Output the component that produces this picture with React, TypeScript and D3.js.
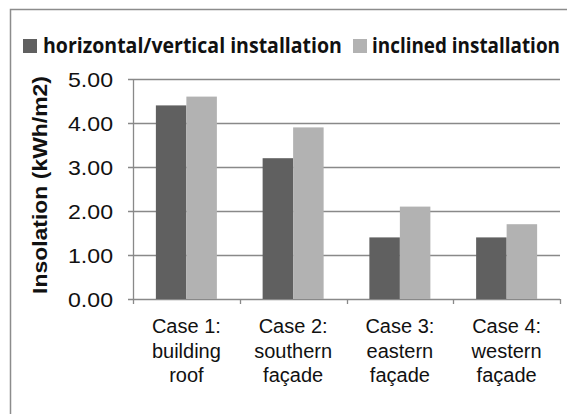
import React, {useEffect, useRef} from 'react'
import * as d3 from 'd3';

const categories = [
    ['Case 1:', 'building', 'roof'],
    ['Case 2:', 'southern', 'façade'],
    ['Case 3:', 'eastern', 'façade'],
    ['Case 4:', 'western', 'façade'],
];
const seriesNames = ['horizontal/vertical installation', 'inclined installation'];
const horizontalVertical = [4.4, 3.2, 1.4, 1.4];
const inclined = [4.6, 3.9, 2.1, 1.7];
const yTicks = [0, 1, 2, 3, 4, 5];

const colors = ['#606060', '#b2b2b2'];

export default function App(){
    const svgRef = useRef<SVGSVGElement>(null);

    const W = 567, H = 414;
    const margin = {top: 79, right: 7, left: 133, bottom: 115};

    useEffect(() => {
        const svg = d3.select(svgRef.current);
        svg.selectAll("*").remove();

        const keys = categories.map(c => c.join(' '));
        const data = keys.map((k, i) => ({key: k, values: [horizontalVertical[i], inclined[i]]}));

        const x0 = d3.scaleBand()
            .domain(keys)
            .range([margin.left, W - margin.right])
            .padding(0);
        const x1 = d3.scaleBand()
            .domain(['0', '1'])
            .range([0, x0.bandwidth()])
            .paddingInner(0)
            .paddingOuter(0.75);
        const y = d3.scaleLinear()
            .domain([0, 5])
            .range([H - margin.bottom, margin.top]);

        // outer chart border (runs off the right and bottom of the picture)
        svg.append('rect')
            .attr('x', 10.5).attr('y', 9.5)
            .attr('width', 700).attr('height', 600)
            .attr('fill', 'white')
            .attr('stroke', '#8c8c8c')
            .attr('stroke-width', 1.5);

        // gridlines + y ticks
        svg.append('g')
            .selectAll('line')
            .data(yTicks)
            .join('line')
            .attr('x1', margin.left - 5)
            .attr('x2', W - margin.right)
            .attr('y1', d => Math.round(y(d)) + 0.5)
            .attr('y2', d => Math.round(y(d)) + 0.5)
            .attr('stroke', '#898989')
            .attr('stroke-width', 1.3);

        svg.append('g')
            .selectAll('text')
            .data(yTicks)
            .join('text')
            .attr('x', 113)
            .attr('y', d => y(d) + 7.5)
            .attr('text-anchor', 'end')
            .attr('font-family', '"Liberation Sans", Arial, sans-serif')
            .attr('font-size', '21px')
            .attr('textLength', 45)
            .attr('lengthAdjust', 'spacingAndGlyphs')
            .attr('fill', '#111')
            .text(d => d.toFixed(2));

        // bars
        svg.append('g')
            .selectAll('g')
            .data(data)
            .join('g')
            .attr('transform', d => `translate(${x0(d.key)},0)`)
            .selectAll('rect')
            .data(d => d.values.map((v, i) => ({v, i})))
            .join('rect')
            .attr('x', d => x1(String(d.i))!)
            .attr('width', x1.bandwidth())
            .attr('y', d => y(d.v))
            .attr('height', d => y(0) - y(d.v))
            .attr('fill', d => colors[d.i]);

        // axes lines
        svg.append('line')
            .attr('x1', margin.left + 0.5).attr('x2', margin.left + 0.5)
            .attr('y1', y(5)).attr('y2', y(0))
            .attr('stroke', '#898989').attr('stroke-width', 1.3);

        const xTickPos = [...keys.map(k => x0(k)!), W - margin.right];
        svg.append('g')
            .selectAll('line')
            .data(xTickPos)
            .join('line')
            .attr('x1', d => Math.round(d) + 0.5)
            .attr('x2', d => Math.round(d) + 0.5)
            .attr('y1', y(0))
            .attr('y2', y(0) + 5)
            .attr('stroke', '#898989')
            .attr('stroke-width', 1.3);

        // category labels
        const lbl = svg.append('g')
            .selectAll('text')
            .data(categories)
            .join('text')
            .attr('text-anchor', 'middle')
            .attr('font-family', '"Liberation Sans", Arial, sans-serif')
            .attr('font-size', '20px')
            .attr('fill', '#111');
        lbl.selectAll('tspan')
            .data((d, i) => d.map(t => ({t, i})))
            .join('tspan')
            .attr('x', d => x0(keys[d.i])! + x0.bandwidth() / 2)
            .attr('y', (d, j) => 333 + j * 24.5)
            .text(d => d.t);

        // y axis title
        svg.append('text')
            .attr('transform', `translate(47,185) rotate(-90)`)
            .attr('text-anchor', 'middle')
            .attr('font-family', '"Liberation Sans", Arial, sans-serif')
            .attr('font-weight', 'bold')
            .attr('font-size', '21px')
            .attr('textLength', 218)
            .attr('lengthAdjust', 'spacingAndGlyphs')
            .attr('fill', '#111')
            .text('Insolation (kWh/m2)');

        // legend - text squeezed horizontally with a scale so its box stays inside
        const legendItems = [
            {name: seriesNames[0], sq: 23, tx: 43, len: 299},
            {name: seriesNames[1], sq: 353, tx: 372, len: 188},
        ];
        const leg = svg.append('g')
            .selectAll('g')
            .data(legendItems)
            .join('g');
        leg.append('rect')
            .attr('x', d => d.sq).attr('y', 39)
            .attr('width', 14).attr('height', 14)
            .attr('fill', (d, i) => colors[i]);
        leg.append('text')
            .attr('x', 0)
            .attr('y', 0)
            .attr('font-family', '"Open Sans", "Noto Sans", sans-serif')
            .attr('font-weight', 'bold')
            .attr('font-size', '21px')
            .attr('fill', '#111')
            .text(d => d.name)
            .attr('transform', function(d){
                const natural = (this as SVGTextElement).getComputedTextLength() || d.len;
                return `translate(${d.tx},53) scale(${d.len / natural},1)`;
            });
    }, []);

    return (
        <svg
            ref={svgRef}
            width={W}
            height={H}
            style={{position: 'absolute', left: 0, top: 0, background: 'white'}}
        />
    );
}
